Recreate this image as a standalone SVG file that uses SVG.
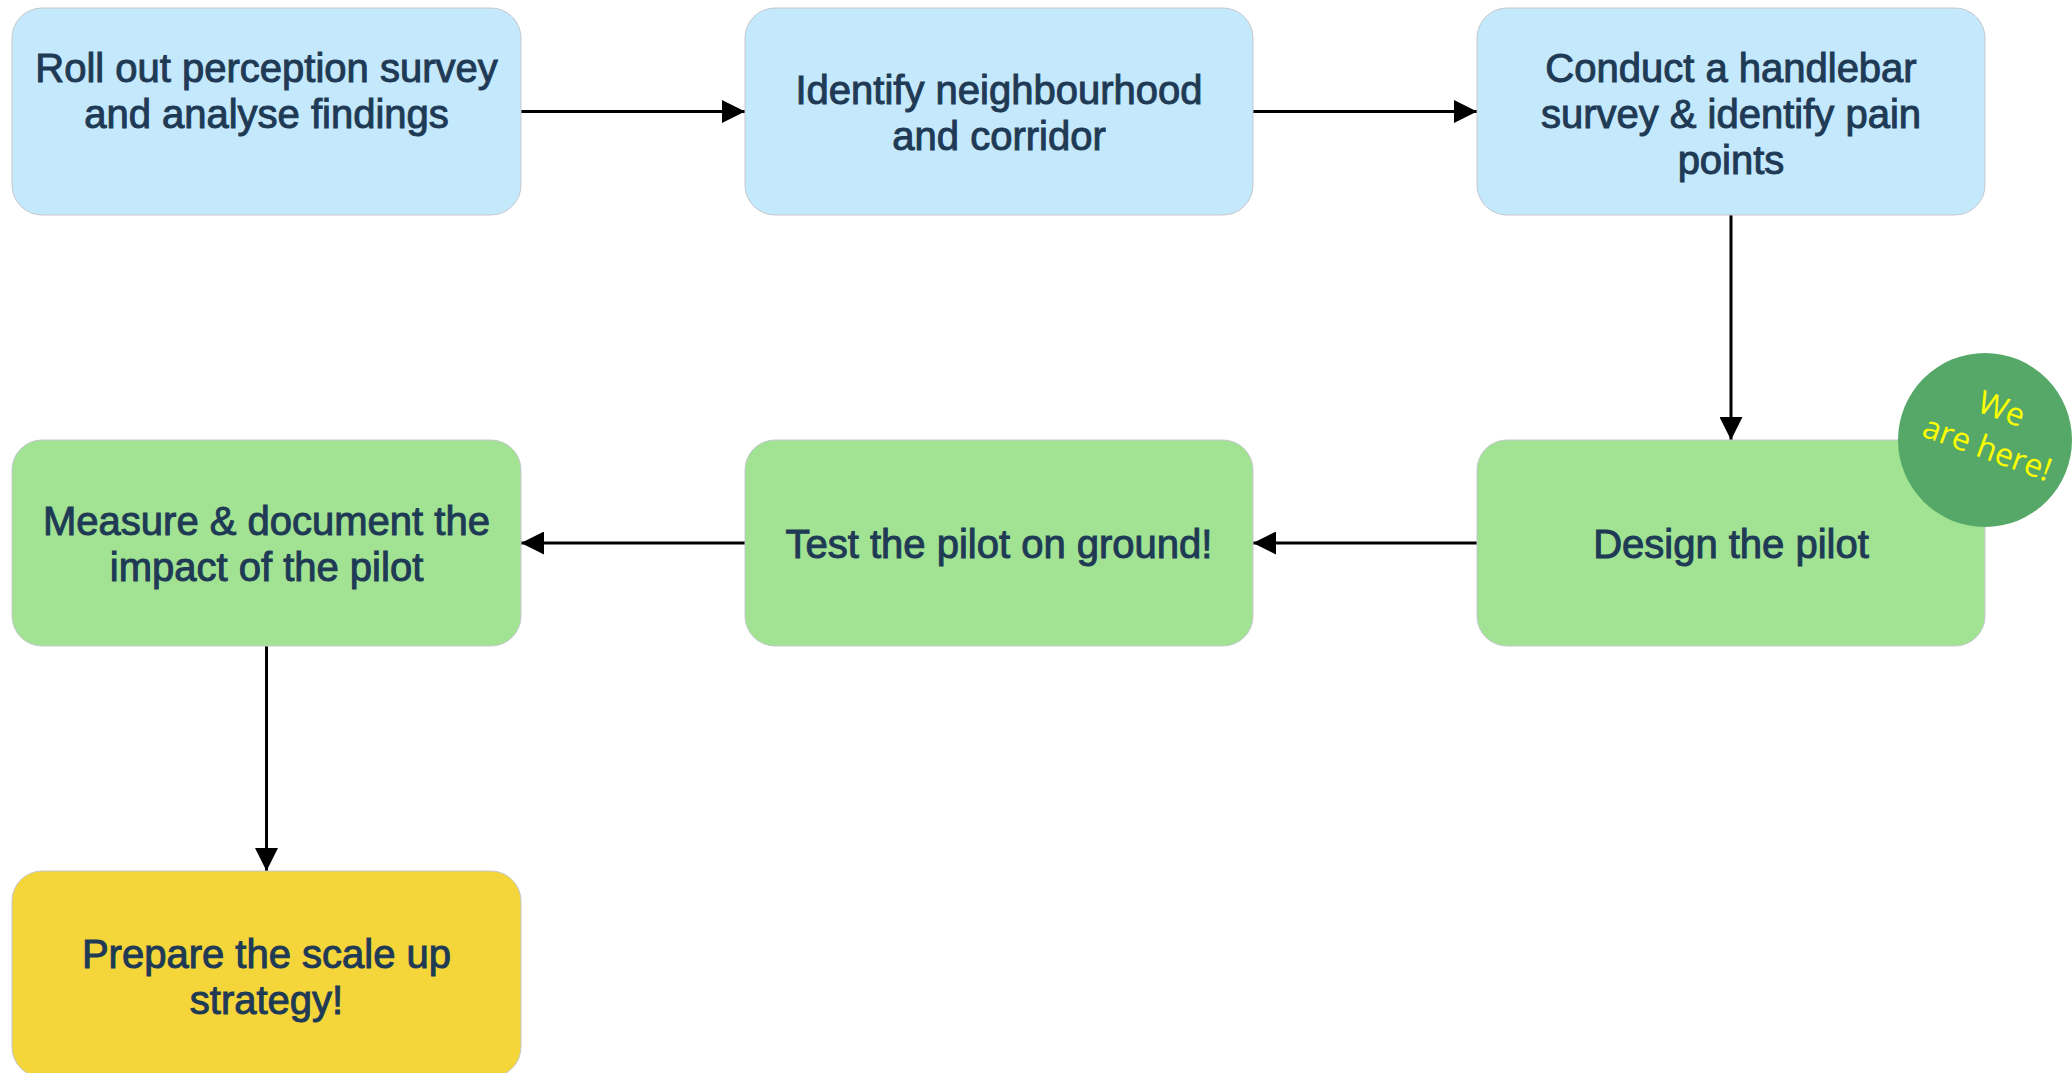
<svg xmlns="http://www.w3.org/2000/svg" width="2072" height="1073" viewBox="0 0 2072 1073">
<style>
.box{stroke:#c4c8cc;stroke-width:1}
.blue{fill:#c4e8fc}
.green{fill:#a1e393}
.yellow{fill:#f4d63b}
.t{font-family:"Liberation Sans",Arial,sans-serif;font-size:40px;fill:#1f3a55;stroke:#1f3a55;stroke-width:1;text-anchor:middle}
.edge{stroke:#000;stroke-width:3;fill:none;marker-end:url(#ah)}
.badge{font-family:"Open Sans",sans-serif;font-size:32px;fill:#ffff00;text-anchor:middle}
</style>
<defs>
<marker id="ah" markerUnits="userSpaceOnUse" markerWidth="23" markerHeight="23" refX="23" refY="11.5" orient="auto">
<path d="M0,0 L23,11.5 L0,23 z" fill="#000"/>
</marker>
</defs>
<rect width="2072" height="1073" fill="#fff"/>
<g id="connectors">
<line class="edge" x1="521" y1="111.5" x2="745" y2="111.5"/>
<line class="edge" x1="1253" y1="111.5" x2="1477" y2="111.5"/>
<line class="edge" x1="1731" y1="215" x2="1731" y2="440"/>
<line class="edge" x1="1477" y1="543" x2="1253" y2="543"/>
<line class="edge" x1="745" y1="543" x2="521" y2="543"/>
<line class="edge" x1="266.5" y1="646" x2="266.5" y2="871"/>
</g>
<g id="n1">
<rect class="box blue" x="12" y="8" width="509" height="207" rx="30"/>
<text class="t" x="266.5" y="82">Roll out perception survey</text>
<text class="t" x="266.5" y="128">and analyse findings</text>
</g>
<g id="n2">
<rect class="box blue" x="745" y="8" width="508" height="207" rx="30"/>
<text class="t" x="999" y="104">Identify neighbourhood</text>
<text class="t" x="999" y="150">and corridor</text>
</g>
<g id="n3">
<rect class="box blue" x="1477" y="8" width="508" height="207" rx="30"/>
<text class="t" x="1731" y="82">Conduct a handlebar</text>
<text class="t" x="1731" y="128">survey &amp; identify pain</text>
<text class="t" x="1731" y="174">points</text>
</g>
<g id="n4">
<rect class="box green" x="12" y="440" width="509" height="206" rx="30"/>
<text class="t" x="266.5" y="535">Measure &amp; document the</text>
<text class="t" x="266.5" y="581">impact of the pilot</text>
</g>
<g id="n5">
<rect class="box green" x="745" y="440" width="508" height="206" rx="30"/>
<text class="t" x="999" y="558">Test the pilot on ground!</text>
</g>
<g id="n6">
<rect class="box green" x="1477" y="440" width="508" height="206" rx="30"/>
<text class="t" x="1731" y="558">Design the pilot</text>
</g>
<g id="n7">
<rect class="box yellow" x="12" y="871" width="509" height="206" rx="30"/>
<text class="t" x="266.5" y="968">Prepare the scale up</text>
<text class="t" x="266.5" y="1014">strategy!</text>
</g>
<g id="badge">
<circle cx="1985" cy="440" r="87" fill="#55a868"/>
<g transform="translate(1985 440) rotate(20)">
<text class="badge" x="5" y="-24">We</text>
<text class="badge" x="5" y="18">are here!</text>
</g>
</g>
</svg>
